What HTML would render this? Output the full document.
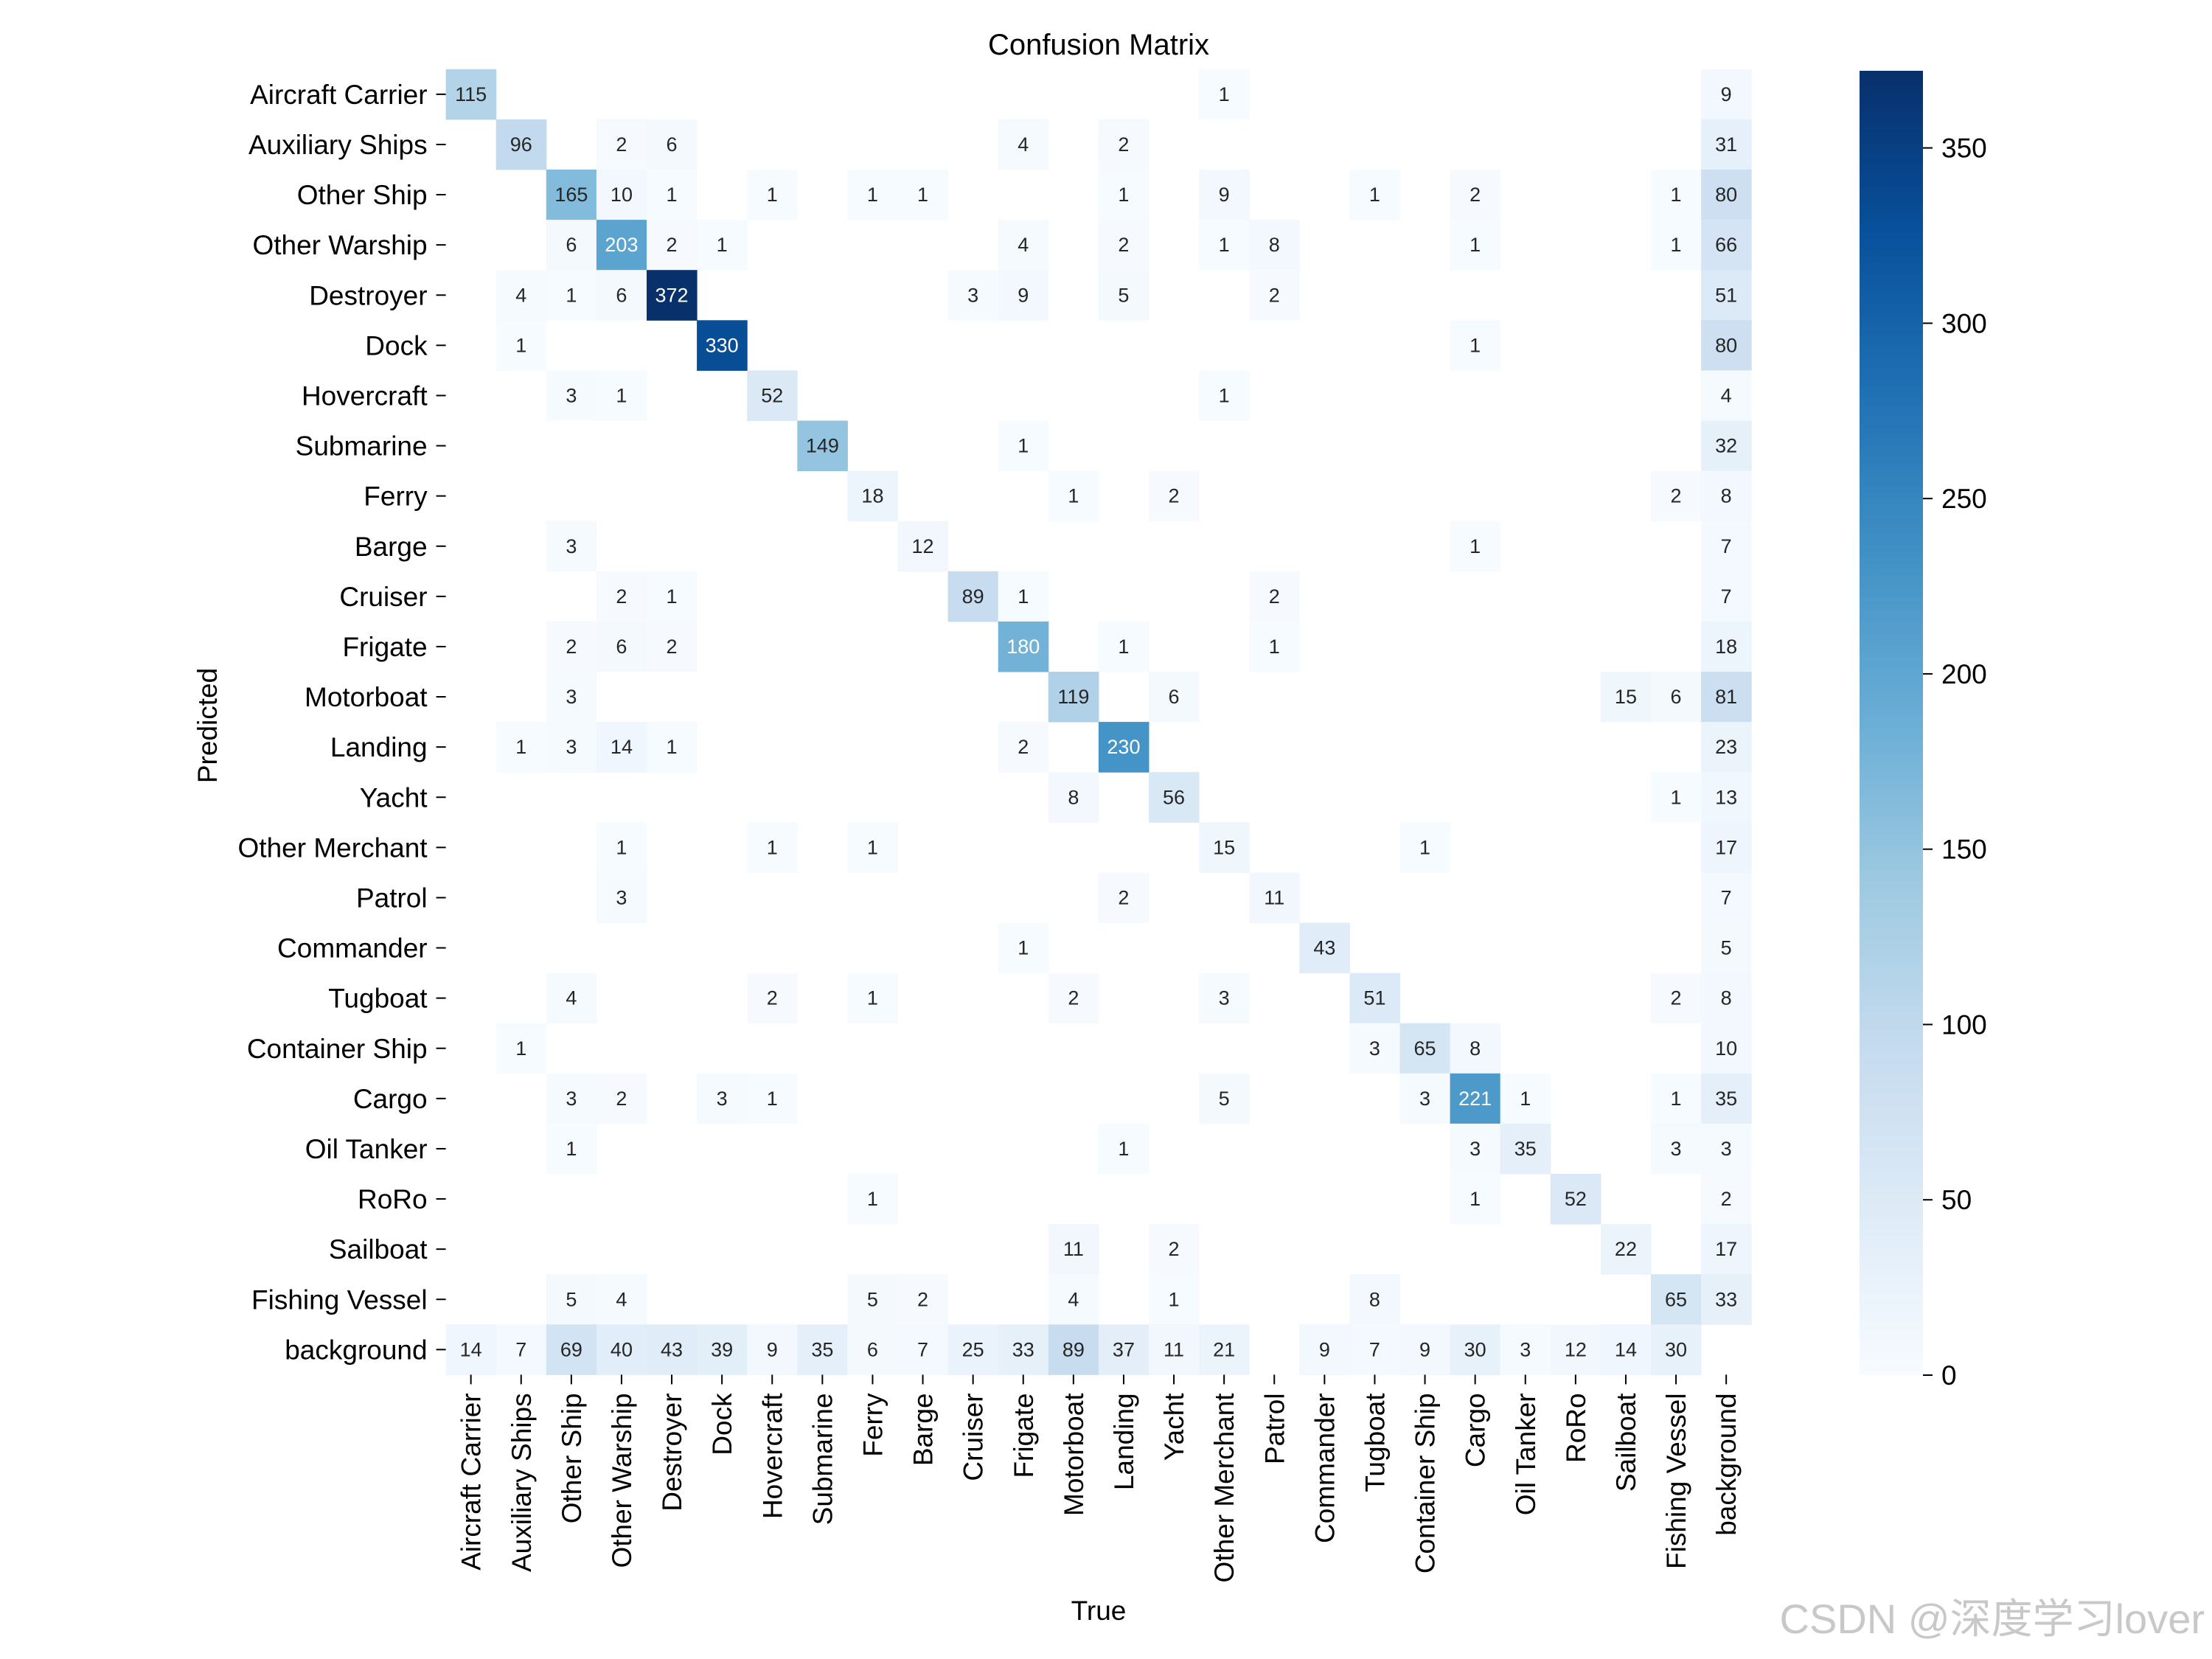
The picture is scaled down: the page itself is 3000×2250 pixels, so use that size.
<!DOCTYPE html>
<html><head><meta charset="utf-8">
<style>
html,body{margin:0;padding:0;background:#fff;}
svg{display:block;font-family:"Liberation Sans",Arial,sans-serif;}
</style></head>
<body>
<svg id="chart" width="3000" height="2250" viewBox="0 0 3000 2250" xmlns="http://www.w3.org/2000/svg">
<text x="1490" y="74" font-size="40" text-anchor="middle" fill="#000">Confusion Matrix</text>
<text x="0" y="0" font-size="37" text-anchor="middle" fill="#000" transform="translate(294,984) rotate(-90)">Predicted</text>
<text x="1490" y="2197" font-size="37" text-anchor="middle" fill="#000">True</text>
<g id="cells"></g>
<g id="ylabels"></g>
<g id="xlabels"></g>
<g id="cbar"></g>
<text x="2990" y="2215" font-size="56" text-anchor="end" fill="#c8c8c8" font-family="'Liberation Sans','Noto Sans CJK SC',sans-serif">CSDN @深度学习lover</text>
</svg>
<script>
const classes = ["Aircraft Carrier","Auxiliary Ships","Other Ship","Other Warship","Destroyer","Dock","Hovercraft","Submarine","Ferry","Barge","Cruiser","Frigate","Motorboat","Landing","Yacht","Other Merchant","Patrol","Commander","Tugboat","Container Ship","Cargo","Oil Tanker","RoRo","Sailboat","Fishing Vessel","background"];
const matrix = [
[115,0,0,0,0,0,0,0,0,0,0,0,0,0,0,1,0,0,0,0,0,0,0,0,0,9],
[0,96,0,2,6,0,0,0,0,0,0,4,0,2,0,0,0,0,0,0,0,0,0,0,0,31],
[0,0,165,10,1,0,1,0,1,1,0,0,0,1,0,9,0,0,1,0,2,0,0,0,1,80],
[0,0,6,203,2,1,0,0,0,0,0,4,0,2,0,1,8,0,0,0,1,0,0,0,1,66],
[0,4,1,6,372,0,0,0,0,0,3,9,0,5,0,0,2,0,0,0,0,0,0,0,0,51],
[0,1,0,0,0,330,0,0,0,0,0,0,0,0,0,0,0,0,0,0,1,0,0,0,0,80],
[0,0,3,1,0,0,52,0,0,0,0,0,0,0,0,1,0,0,0,0,0,0,0,0,0,4],
[0,0,0,0,0,0,0,149,0,0,0,1,0,0,0,0,0,0,0,0,0,0,0,0,0,32],
[0,0,0,0,0,0,0,0,18,0,0,0,1,0,2,0,0,0,0,0,0,0,0,0,2,8],
[0,0,3,0,0,0,0,0,0,12,0,0,0,0,0,0,0,0,0,0,1,0,0,0,0,7],
[0,0,0,2,1,0,0,0,0,0,89,1,0,0,0,0,2,0,0,0,0,0,0,0,0,7],
[0,0,2,6,2,0,0,0,0,0,0,180,0,1,0,0,1,0,0,0,0,0,0,0,0,18],
[0,0,3,0,0,0,0,0,0,0,0,0,119,0,6,0,0,0,0,0,0,0,0,15,6,81],
[0,1,3,14,1,0,0,0,0,0,0,2,0,230,0,0,0,0,0,0,0,0,0,0,0,23],
[0,0,0,0,0,0,0,0,0,0,0,0,8,0,56,0,0,0,0,0,0,0,0,0,1,13],
[0,0,0,1,0,0,1,0,1,0,0,0,0,0,0,15,0,0,0,1,0,0,0,0,0,17],
[0,0,0,3,0,0,0,0,0,0,0,0,0,2,0,0,11,0,0,0,0,0,0,0,0,7],
[0,0,0,0,0,0,0,0,0,0,0,1,0,0,0,0,0,43,0,0,0,0,0,0,0,5],
[0,0,4,0,0,0,2,0,1,0,0,0,2,0,0,3,0,0,51,0,0,0,0,0,2,8],
[0,1,0,0,0,0,0,0,0,0,0,0,0,0,0,0,0,0,3,65,8,0,0,0,0,10],
[0,0,3,2,0,3,1,0,0,0,0,0,0,0,0,5,0,0,0,3,221,1,0,0,1,35],
[0,0,1,0,0,0,0,0,0,0,0,0,0,1,0,0,0,0,0,0,3,35,0,0,3,3],
[0,0,0,0,0,0,0,0,1,0,0,0,0,0,0,0,0,0,0,0,1,0,52,0,0,2],
[0,0,0,0,0,0,0,0,0,0,0,0,11,0,2,0,0,0,0,0,0,0,0,22,0,17],
[0,0,5,4,0,0,0,0,5,2,0,0,4,0,1,0,0,0,8,0,0,0,0,0,65,33],
[14,7,69,40,43,39,9,35,6,7,25,33,89,37,11,21,0,9,7,9,30,3,12,14,30,0]
];
const cbarTicks = [0,50,100,150,200,250,300,350];
const vmax = 372;

const NS = "http://www.w3.org/2000/svg";
const gridLeft = 604.6, gridTop = 93.8, cell = 68.1;
const n = classes.length;
const xPos = i => gridLeft + i*cell;
const yPos = i => gridTop + i*cell;
const stops = ["#f7fbff","#deebf7","#c6dbef","#9ecae1","#6baed6","#4292c6","#2171b5","#08519c","#08306b"].map(h=>[parseInt(h.slice(1,3),16),parseInt(h.slice(3,5),16),parseInt(h.slice(5,7),16)]);
function color(v){
  let t=Math.max(0,Math.min(1,v/vmax))*(stops.length-1);
  let i=Math.min(stops.length-2,Math.floor(t)), f=t-i;
  return stops[i].map((a,k)=>Math.round(a+(stops[i+1][k]-a)*f));
}
function lum(c){
  const l=c.map(x=>{x/=255;return x<=0.03928?x/12.92:Math.pow((x+0.055)/1.055,2.4);});
  return 0.2126*l[0]+0.7152*l[1]+0.0722*l[2];
}
function mk(tag,attrs,parent){const e=document.createElementNS(NS,tag);for(const k in attrs)e.setAttribute(k,attrs[k]);parent.appendChild(e);return e;}

const gC=document.getElementById("cells");
for(let r=0;r<n;r++)for(let c=0;c<n;c++){
  const v=matrix[r][c]; if(!v) continue;
  const col=color(v);
  const rect=mk("rect",{x:xPos(c),y:yPos(r),width:cell+0.5,height:cell+0.5,fill:"rgb("+col.join(",")+")"},gC);
  
  
  const t=mk("text",{x:xPos(c)+cell/2,y:yPos(r)+cell/2+9,"font-size":27,"text-anchor":"middle",fill:lum(col)>0.408?"#262626":"#ffffff"},gC);
  
  
  t.textContent=v;
}
const gY=document.getElementById("ylabels"), gX=document.getElementById("xlabels");
classes.forEach((name,i)=>{
  const yc=yPos(i)+cell/2;
  const tl=mk("line",{x1:gridLeft-13,x2:gridLeft,y1:yc,y2:yc,stroke:"#000","stroke-width":2},gY);
  
  
  const t=mk("text",{x:gridLeft-25,y:yc+13,"font-size":37,"text-anchor":"end",fill:"#000"},gY);
  
  
  t.textContent=name;
  const xc=xPos(i)+cell/2, yb=gridTop+n*cell;
  const xl=mk("line",{x1:xc,x2:xc,y1:yb,y2:yb+13,stroke:"#000","stroke-width":2},gX);
  
  
  const tx=mk("text",{x:0,y:0,"font-size":37,"text-anchor":"end",fill:"#000",transform:"translate("+(xc+13)+","+(yb+25)+") rotate(-90)"},gX);
  
  
  tx.textContent=name;
});
const gB=document.getElementById("cbar");
const cbX=2522, cbW=86, cbTop=96, cbBot=1865;
const defs=mk("defs",{},gB);
const grad=mk("linearGradient",{id:"bl",x1:0,y1:1,x2:0,y2:0},defs);
stops.forEach((s,i)=>mk("stop",{offset:i/(stops.length-1),"stop-color":"rgb("+s.join(",")+")"},grad));
const cb=mk("rect",{x:cbX,y:cbTop,width:cbW,height:cbBot-cbTop,fill:"url(#bl)"},gB);


const cbY=v=>cbBot-(v/vmax)*(cbBot-cbTop);
cbarTicks.forEach(v=>{
  const y=cbY(v);
  const l=mk("line",{x1:cbX+cbW,x2:cbX+cbW+13,y1:y,y2:y,stroke:"#000","stroke-width":2},gB);
  
  
  const t=mk("text",{x:cbX+cbW+25,y:y+13,"font-size":37,fill:"#000"},gB);
  
  
  t.textContent=v;
});
</script>
</body></html>
